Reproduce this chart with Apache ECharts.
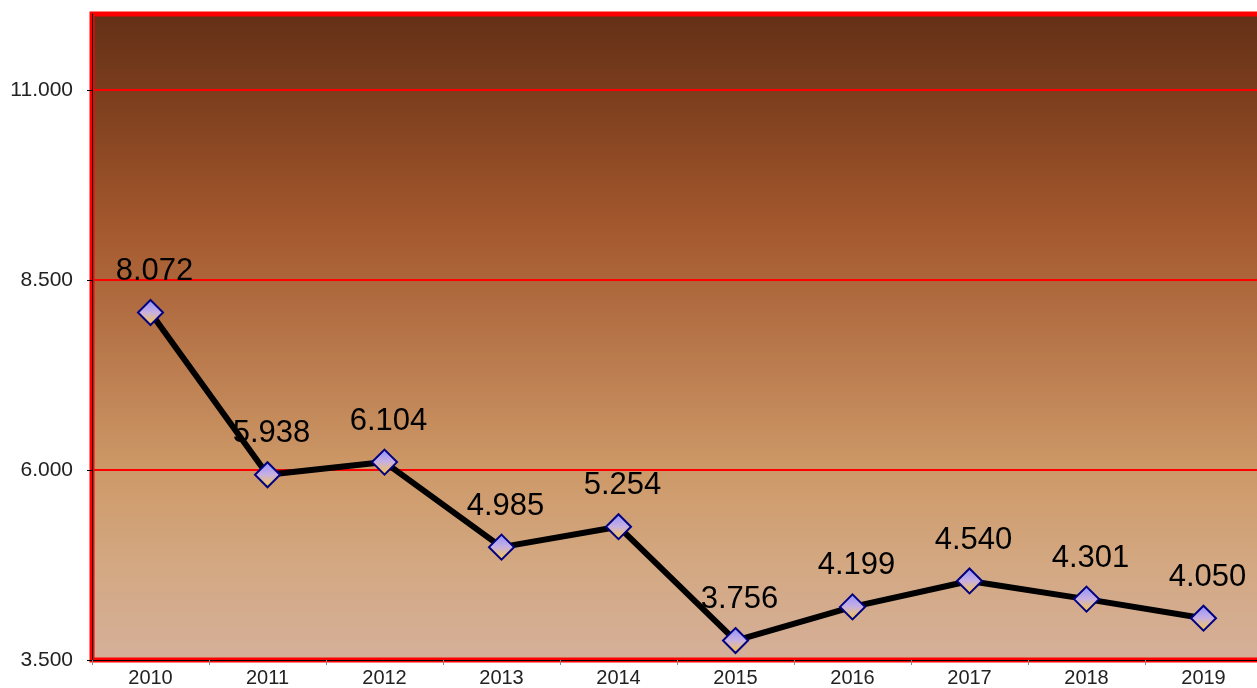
<!DOCTYPE html>
<html>
<head>
<meta charset="utf-8">
<script src="https://cdn.jsdelivr.net/npm/echarts@6/dist/echarts.min.js"></script>
<style>
  html, body { margin: 0; padding: 0; background: #fff; }
  #chart { width: 1257px; height: 688px; }
</style>
</head>
<body>
<div id="chart"></div>
<script>
var years = ['2010', '2011', '2012', '2013', '2014', '2015', '2016', '2017', '2018', '2019']
var values = [8.072, 5.938, 6.104, 4.985, 5.254, 3.756, 4.199, 4.540, 4.301, 4.050]
var yMin = 3.5
var yMax = 12
var yStep = 2.5

var myChart = echarts.init(document.getElementById('chart'))

var option = {
  animation: false,
  grid: {
    left: 92,
    top: 14,
    bottom: 28,
    width: 1170,
    outerBoundsMode: 'none',
    containLabel: false,
    show: true,
    borderColor: '#ff0000',
    borderWidth: 5,
    backgroundColor: {
      type: 'linear', x: 0, y: 0, x2: 0, y2: 1,
      colorStops: [
        {offset: 0, color: '#633017'},
        {offset: 0.12, color: '#7a3d1d'},
        {offset: 0.33, color: '#a4582d'},
        {offset: 0.45, color: '#b06c40'},
        {offset: 0.7, color: '#cd9867'},
        {offset: 0.85, color: '#d3a882'},
        {offset: 1, color: '#d5b09a'}
      ]
    }
  },
  xAxis: {
    type: 'category',
    data: years,
    axisLine: {lineStyle: {color: '#000', width: 1}},
    axisTick: {show: true, length: 5, lineStyle: {color: '#888'}},
    axisLabel: {color: '#222', fontSize: 20, fontFamily: 'Arial, Liberation Sans', margin: 8}
  },
  yAxis: {
    type: 'value',
    min: yMin,
    max: yMax,
    interval: yStep,
    axisLine: {show: true, lineStyle: {color: '#000', width: 1}},
    axisTick: {show: true, length: 5, lineStyle: {color: '#000'}},
    axisLabel: {
      color: '#222',
      fontSize: 21,
      fontFamily: 'Arial, Liberation Sans',
      margin: 19,
      showMaxLabel: false,
      formatter: function (v) { return v.toFixed(3) }
    },
    splitLine: {show: true, lineStyle: {color: '#ff0000', width: 2}}
  },
  series: [
    {
      type: 'line',
      data: values,
      symbol: 'diamond',
      symbolSize: 25,
      lineStyle: {color: '#000', width: 6},
      itemStyle: {
        color: {
          type: 'linear', x: 0, y: 0, x2: 0, y2: 1,
          colorStops: [
            {offset: 0, color: '#9090ff'},
            {offset: 0.5, color: '#c8b0e0'},
            {offset: 1, color: '#ffc830'}
          ]
        },
        borderColor: '#000080',
        borderWidth: 2
      },
      label: {
        show: true,
        position: 'top',
        distance: 12,
        offset: [4, 0],
        color: '#000',
        fontSize: 31,
        fontFamily: 'Arial, Liberation Sans',
        formatter: function (p) { return p.value.toFixed(3) }
      }
    }
  ]
}

myChart.setOption(option)
</script>
</body>
</html>
